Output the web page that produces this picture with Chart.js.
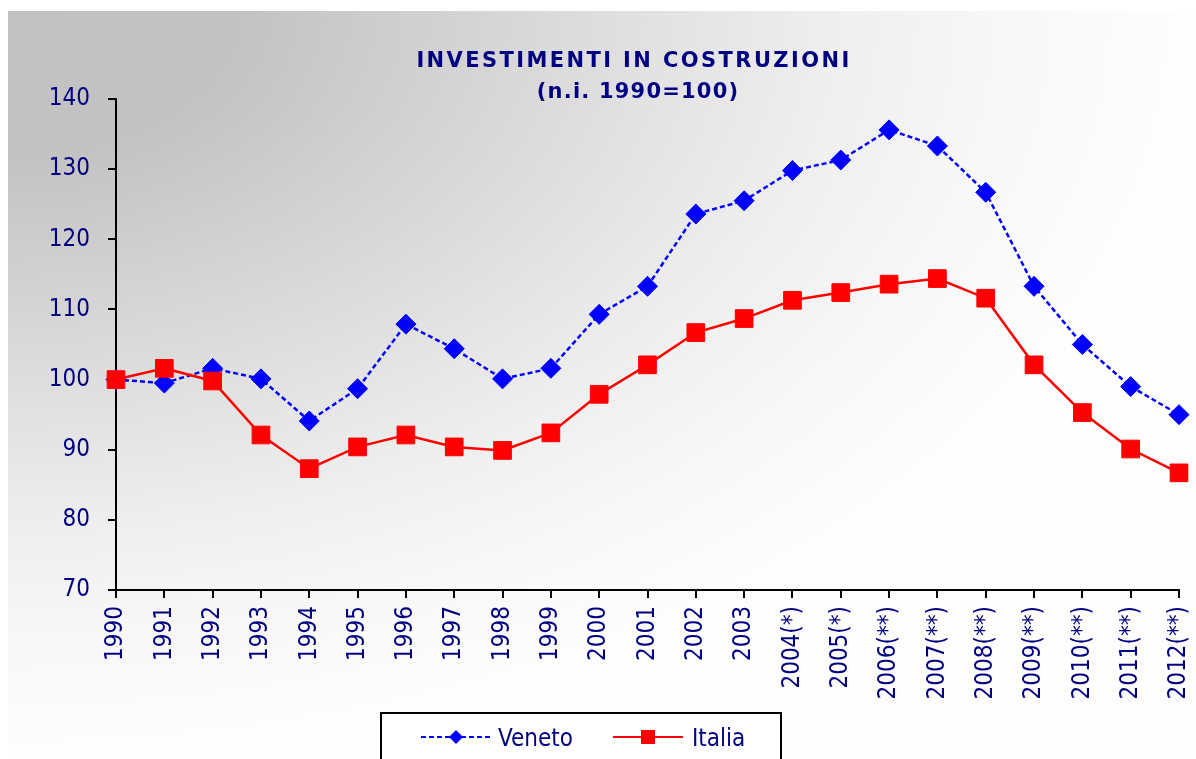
<!DOCTYPE html>
<html><head><meta charset="utf-8">
<script src="https://cdn.jsdelivr.net/npm/chart.js@4/dist/chart.umd.min.js"></script>
<style>html,body{margin:0;padding:0;background:#fff;overflow:hidden}#wrap{width:1196px;height:759px;position:relative}</style>
</head><body><div id="wrap"><canvas id="c" width="1196" height="759"></canvas></div>
<script>
const categories = ['1990','1991','1992','1993','1994','1995','1996','1997','1998','1999','2000','2001','2002','2003','2004(*)','2005(*)','2006(**)','2007(**)','2008(**)','2009(**)','2010(**)','2011(**)','2012(**)'];
const veneto = [100, 99.5, 101.6, 100.1, 94.1, 98.7, 107.9, 104.4, 100.1, 101.6, 109.3, 113.3, 123.6, 125.5, 129.8, 131.3, 135.6, 133.3, 126.7, 113.3, 105.0, 99.0, 95.0];
const italia = [100, 101.6, 99.8, 92.1, 87.3, 90.4, 92.1, 90.4, 89.9, 92.4, 97.9, 102.1, 106.7, 108.7, 111.3, 112.4, 113.6, 114.4, 111.6, 102.1, 95.3, 90.1, 86.7];
const seriesNames = ['Veneto', 'Italia'];
const yMin = 70, yMax = 140, yStep = 10;
const titleLines = ['INVESTIMENTI IN COSTRUZIONI', '(n.i. 1990=100)'];

const NAVY = '#000080';
const FONT = '"DejaVu Sans Condensed", "Liberation Sans", sans-serif';
const XFONT = '"Liberation Sans Narrow", "DejaVu Sans Condensed", "Liberation Sans", sans-serif';

const bgPlugin = {
  id: 'bg',
  beforeDraw(chart) {
    const ctx = chart.ctx;
    ctx.save();
    ctx.fillStyle = '#ffffff';
    ctx.fillRect(0, 0, chart.width, chart.height);
    const x0 = 8, y0 = 11, W = chart.width - x0, H = chart.height - y0;
    ctx.translate(x0, y0);
    ctx.scale(W, H);
    const g = ctx.createRadialGradient(0, 0, 0, 0, 0, 1);
    g.addColorStop(0, '#c2c2c2');
    g.addColorStop(0.2, '#c3c3c3');
    g.addColorStop(0.4, '#d5d5d5');
    g.addColorStop(0.57, '#e4e4e4');
    g.addColorStop(0.7, '#efefef');
    g.addColorStop(0.83, '#f7f7f7');
    g.addColorStop(1, '#fefefe');
    ctx.fillStyle = g;
    ctx.fillRect(0, 0, 1, 1);
    ctx.restore();
  }
};

const decoPlugin = {
  id: 'deco',
  afterDraw(chart) {
    const ctx = chart.ctx;
    ctx.save();
    // Title
    ctx.fillStyle = NAVY;
    ctx.textAlign = 'center';
    ctx.textBaseline = 'alphabetic';
    ctx.font = 'bold 21px "DejaVu Sans", sans-serif';
    try { ctx.letterSpacing = '2.4px'; } catch (e) {}
    ctx.fillText(titleLines[0], 634, 67);
    try { ctx.letterSpacing = '1.2px'; } catch (e) {}
    ctx.fillText(titleLines[1], 638, 98);
    try { ctx.letterSpacing = '0px'; } catch (e) {}
    // Legend box
    ctx.fillStyle = '#ffffff';
    ctx.fillRect(381, 713, 400, 60);
    ctx.strokeStyle = '#000000';
    ctx.lineWidth = 2;
    ctx.strokeRect(381, 713, 400, 60);
    const ly = 737;
    const ds = chart.data.datasets;
    // Veneto sample
    ctx.strokeStyle = ds[0].borderColor;
    ctx.lineWidth = 2;
    ctx.setLineDash([5, 3]);
    ctx.beginPath(); ctx.moveTo(421, ly); ctx.lineTo(491, ly); ctx.stroke();
    ctx.setLineDash([]);
    ctx.fillStyle = ds[0].pointBackgroundColor;
    ctx.beginPath(); ctx.moveTo(456, ly - 7); ctx.lineTo(463, ly); ctx.lineTo(456, ly + 7); ctx.lineTo(449, ly); ctx.closePath(); ctx.fill();
    // Italia sample
    ctx.strokeStyle = ds[1].borderColor;
    ctx.beginPath(); ctx.moveTo(613, ly); ctx.lineTo(683, ly); ctx.stroke();
    ctx.fillStyle = ds[1].pointBackgroundColor;
    ctx.fillRect(641, ly - 7, 14, 14);
    // Legend texts
    ctx.fillStyle = NAVY;
    ctx.textAlign = 'left';
    ctx.font = '24px ' + FONT;
    ctx.fillText(seriesNames[0], 498, 746);
    ctx.fillText(seriesNames[1], 692, 746);
    ctx.restore();
  }
};

new Chart(document.getElementById('c'), {
  type: 'line',
  data: {
    labels: categories,
    datasets: [
      {
        label: seriesNames[0], data: veneto, order: 1,
        borderColor: '#0000ff', backgroundColor: '#0000ff', borderWidth: 2.5, borderDash: [5, 3],
        pointStyle: 'rectRot', pointRadius: 10, pointBackgroundColor: '#0000ff', pointBorderColor: '#0000ff', pointBorderWidth: 1,
        tension: 0, fill: false
      },
      {
        label: seriesNames[1], data: italia, order: 0,
        borderColor: '#ff0000', backgroundColor: '#ff0000', borderWidth: 2.5,
        pointStyle: 'rect', pointRadius: 12.5, pointBackgroundColor: '#ff0000', pointBorderColor: '#ff0000', pointBorderWidth: 1,
        tension: 0, fill: false
      }
    ]
  },
  options: {
    responsive: false, animation: false, devicePixelRatio: 1,
    layout: { padding: { left: 0, top: 99, right: 17, bottom: 0 } },
    plugins: { legend: { display: false }, title: { display: false }, tooltip: { enabled: false } },
    scales: {
      x: {
        type: 'category', offset: false,
        grid: { display: true, drawOnChartArea: false, drawTicks: true, tickLength: 8, color: '#000', lineWidth: 2, offset: false },
        border: { display: true, color: '#000', width: 2 },
        ticks: { autoSkip: false, maxRotation: 90, minRotation: 90, color: NAVY, font: { family: XFONT, size: 24 }, padding: 8 },
        afterFit(s) { s.height = 169; s.paddingLeft = 0; s.paddingRight = 0; }
      },
      y: {
        min: yMin, max: yMax,
        grid: { display: true, drawOnChartArea: false, drawTicks: true, tickLength: 8, color: '#000', lineWidth: 2 },
        border: { display: true, color: '#000', width: 2 },
        ticks: { stepSize: yStep, color: NAVY, font: { family: FONT, size: 24 }, padding: 18 },
        afterFit(s) { s.width = 116; s.paddingTop = 0; s.paddingBottom = 0; }
      }
    }
  },
  plugins: [bgPlugin, decoPlugin]
});
</script></body></html>
